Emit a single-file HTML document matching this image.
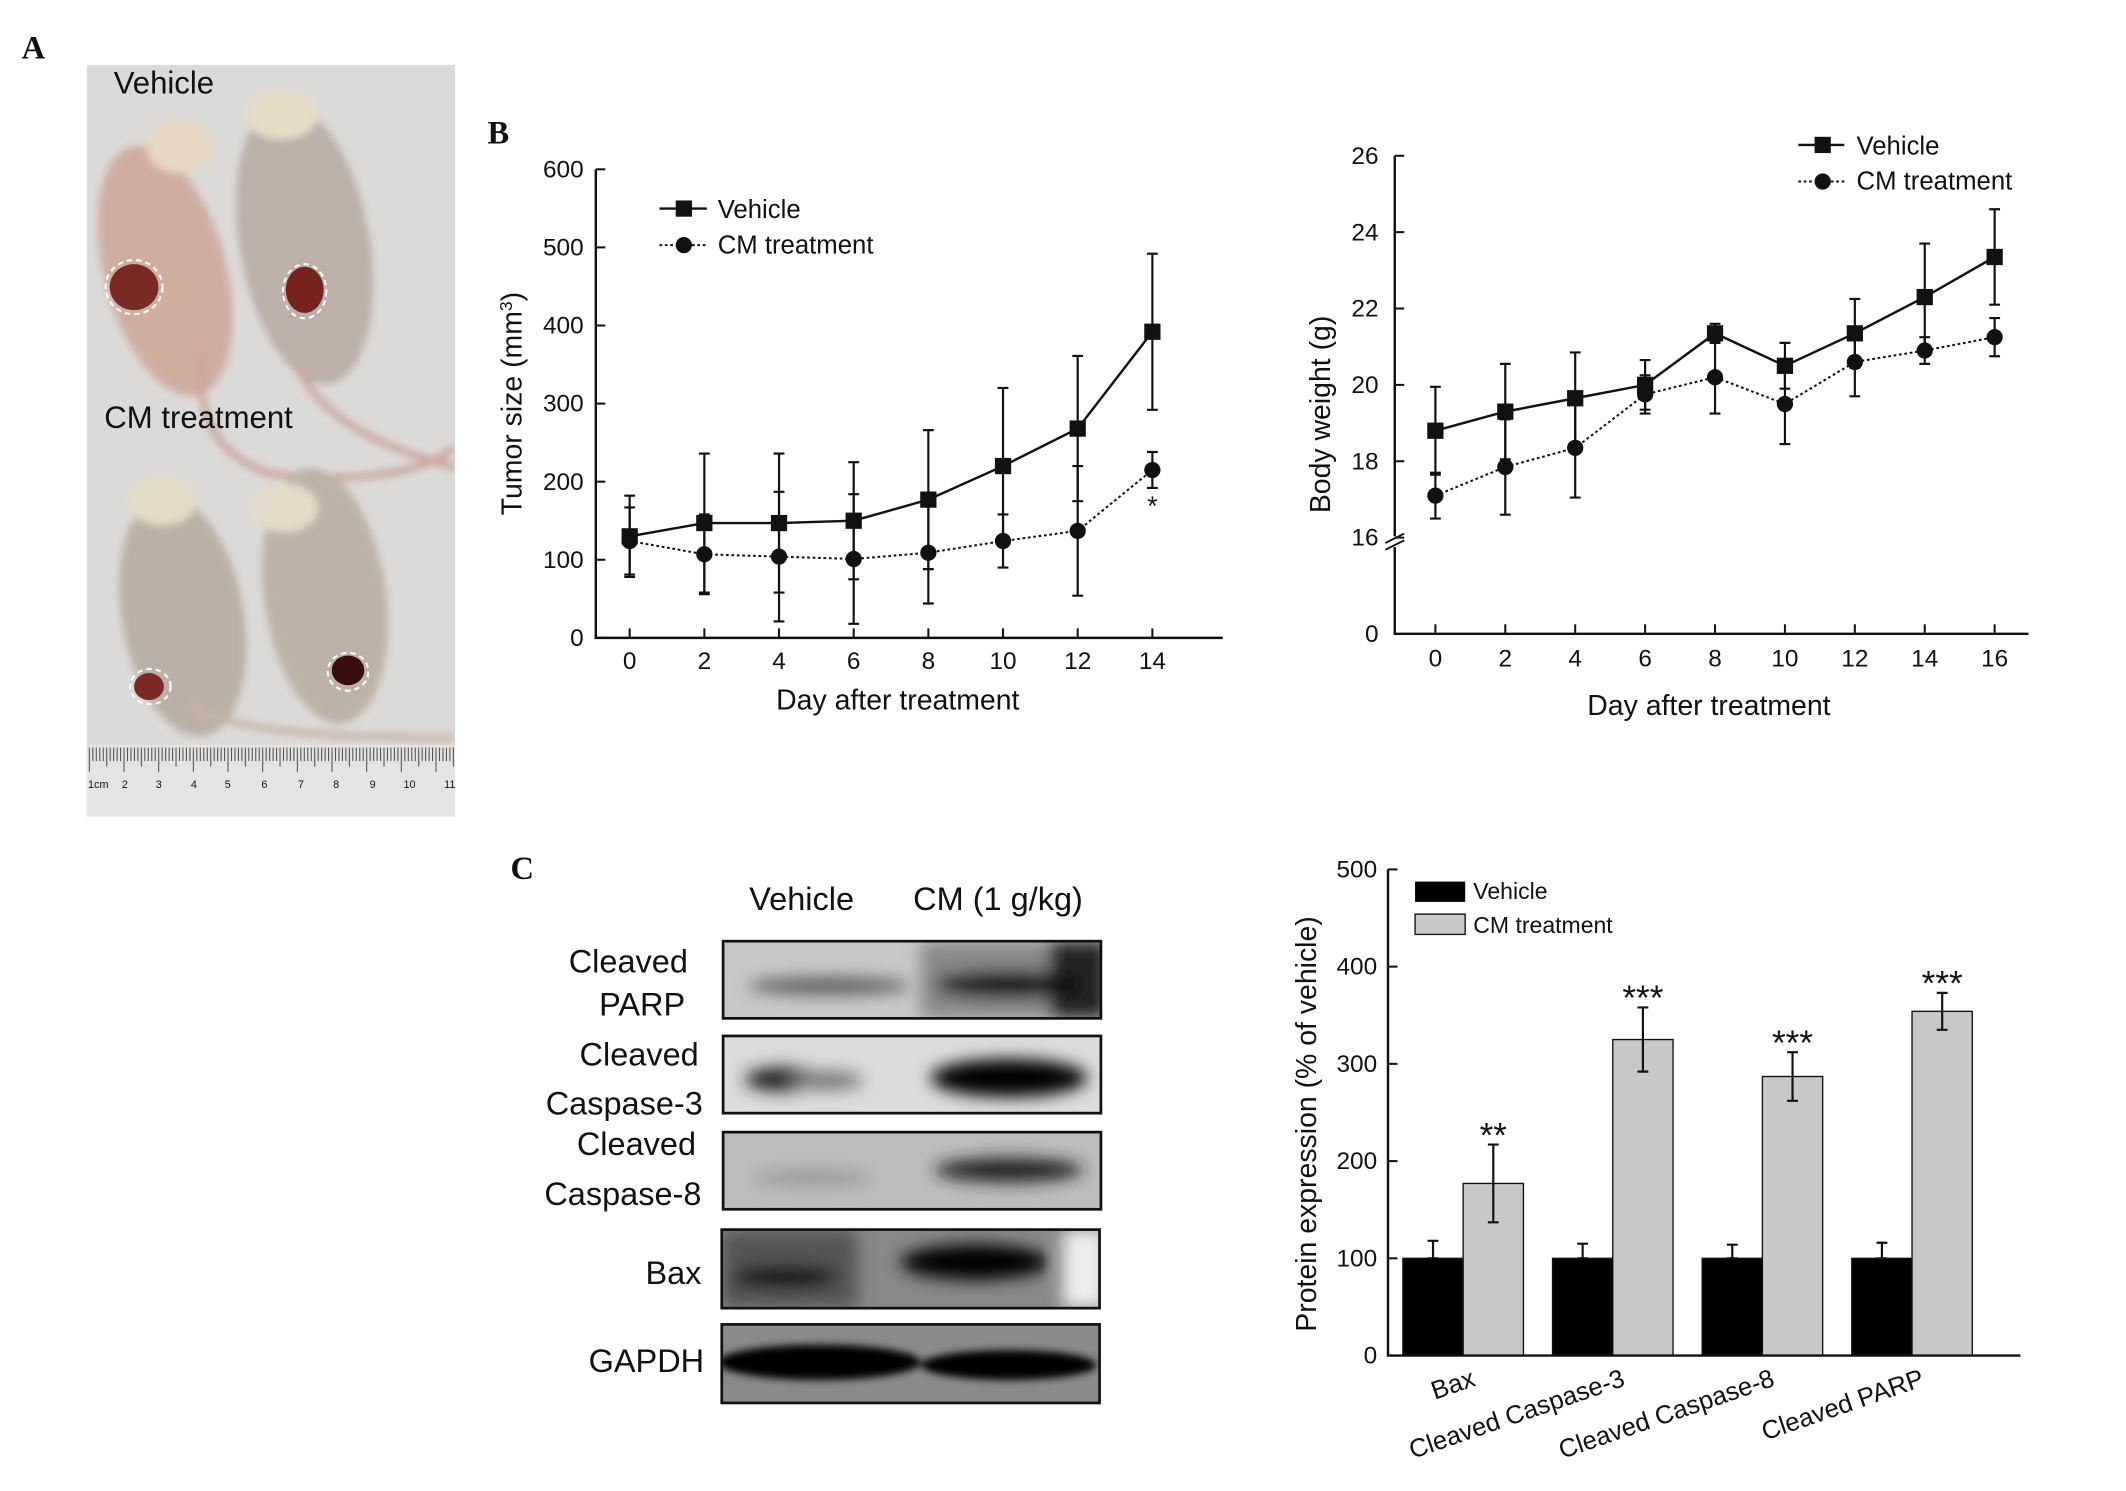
<!DOCTYPE html>
<html><head><meta charset="utf-8"><style>
html,body{margin:0;padding:0;background:#fff;}
svg{display:block;}
text{font-family:"Liberation Sans",Arial,sans-serif;fill:#111;}
.pl{font-family:"Liberation Serif",serif;font-weight:bold;font-size:24px;}
.tk{font-size:18px;}
.at{font-size:21px;}
.lg{font-size:19px;}
.wb{font-size:24px;}
</style></head><body>
<svg id="fig" width="2126" height="1491" viewBox="0 0 1570 1101" xmlns="http://www.w3.org/2000/svg">
<defs>
<filter id="blur" x="-30%" y="-80%" width="160%" height="260%"><feGaussianBlur stdDeviation="6"/></filter>
<filter id="blur2" x="-30%" y="-80%" width="160%" height="260%"><feGaussianBlur stdDeviation="3"/></filter>
<clipPath id="photoClip"><rect x="64" y="48" width="272" height="555"/></clipPath>
<clipPath id="c1"><rect x="534" y="695" width="279" height="57"/></clipPath>
<clipPath id="c2"><rect x="534" y="765" width="279" height="57"/></clipPath>
<clipPath id="c3"><rect x="534" y="836" width="279" height="57"/></clipPath>
<clipPath id="c4"><rect x="533" y="908" width="279" height="58"/></clipPath>
<clipPath id="c5"><rect x="533" y="978" width="279" height="58"/></clipPath>
</defs>

<text class="pl" x="16" y="43">A</text>
<g clip-path="url(#photoClip)">
  <rect x="64" y="48" width="272" height="555" fill="#dcdad8"/>
  <g filter="url(#blur2)">
    <ellipse cx="122" cy="200" rx="45" ry="95" fill="#cfaea2" transform="rotate(-15 122 200)"/>
    <ellipse cx="133" cy="108" rx="25" ry="20" fill="#e6d8c2"/>
    <ellipse cx="225" cy="180" rx="48" ry="105" fill="#bcb0a8" transform="rotate(-10 225 180)"/>
    <ellipse cx="208" cy="85" rx="27" ry="18" fill="#e7dcc5"/>
    <path d="M150 260 Q140 330 200 350 Q300 360 336 330" stroke="#c9a49a" stroke-width="5" fill="none"/>
    <path d="M220 270 Q240 320 336 345" stroke="#c9a49a" stroke-width="5" fill="none"/>
    <ellipse cx="135" cy="455" rx="45" ry="90" fill="#bbb0a5" transform="rotate(-10 135 455)"/>
    <ellipse cx="120" cy="370" rx="25" ry="18" fill="#e4dcc6"/>
    <ellipse cx="240" cy="440" rx="45" ry="95" fill="#bdb2a6" transform="rotate(-8 240 440)"/>
    <ellipse cx="210" cy="375" rx="25" ry="18" fill="#e4dcc6"/>
    <path d="M140 520 Q170 545 336 545" stroke="#c9b3a5" stroke-width="5" fill="none"/>
  </g>
  <ellipse cx="99" cy="212" rx="18" ry="17" fill="#7a2a25"/>
  <ellipse cx="225" cy="214" rx="14" ry="17" fill="#762320"/>
  <ellipse cx="110" cy="507" rx="11" ry="10" fill="#7b2a28"/>
  <ellipse cx="257" cy="495" rx="12" ry="11" fill="#3b0f10"/>
  <ellipse cx="99" cy="212" rx="21" ry="20" fill="none" stroke="#fff" stroke-width="1.5" stroke-dasharray="4 3"/>
  <ellipse cx="225" cy="215" rx="16" ry="20" fill="none" stroke="#fff" stroke-width="1.5" stroke-dasharray="4 3"/>
  <ellipse cx="111" cy="507" rx="15" ry="13" fill="none" stroke="#fff" stroke-width="1.5" stroke-dasharray="4 3"/>
  <ellipse cx="257" cy="496" rx="15" ry="14" fill="none" stroke="#fff" stroke-width="1.5" stroke-dasharray="4 3"/>
  <rect x="64" y="550" width="272" height="53" fill="#e6e4e2"/>
  <g id="rulerTicks" stroke="#555" stroke-width="0.8"></g>
  <g>
    <text x="65" y="582" style="font-size:8px">1cm</text><text x="90" y="582" style="font-size:8px">2</text><text x="115" y="582" style="font-size:8px">3</text><text x="141" y="582" style="font-size:8px">4</text><text x="166" y="582" style="font-size:8px">5</text><text x="193" y="582" style="font-size:8px">6</text><text x="220" y="582" style="font-size:8px">7</text><text x="246" y="582" style="font-size:8px">8</text><text x="273" y="582" style="font-size:8px">9</text><text x="298" y="582" style="font-size:8px">10</text><text x="328" y="582" style="font-size:8px">11</text>
  </g>
  <text x="84" y="69" style="font-size:23px">Vehicle</text>
  <text x="77" y="316" style="font-size:23px">CM  treatment</text>
</g>

<text class="pl" x="360" y="106">B</text>
<g id="tumorChart"></g>
<g id="weightChart"></g>

<text class="pl" x="377" y="649">C</text>
<g>
  <text class="wb" x="592" y="672" text-anchor="middle">Vehicle</text>
  <text class="wb" x="737" y="672" text-anchor="middle">CM (1 g/kg)</text>
  <g text-anchor="end">
    <text class="wb" x="508" y="718">Cleaved</text><text class="wb" x="506" y="750">PARP</text>
    <text class="wb" x="516" y="787">Cleaved</text><text class="wb" x="519" y="823">Caspase-3</text>
    <text class="wb" x="514" y="853">Cleaved</text><text class="wb" x="518" y="890">Caspase-8</text>
    <text class="wb" x="518" y="948">Bax</text>
    <text class="wb" x="520" y="1013">GAPDH</text>
  </g>
  <g>
    <rect x="534" y="695" width="279" height="57" fill="#c8c8c8"/>
    <g clip-path="url(#c1)"><g filter="url(#blur)"><rect x="680" y="695" width="133" height="57" fill="#888"/><rect x="775" y="695" width="43" height="57" fill="#222"/>
    <ellipse cx="612" cy="728" rx="60" ry="6" fill="#555"/><ellipse cx="745" cy="727" rx="55" ry="10" fill="#111"/></g></g>
    <rect x="534" y="695" width="279" height="57" fill="none" stroke="#111" stroke-width="2"/>
  </g>
  <g>
    <rect x="534" y="765" width="279" height="57" fill="#dcdcdc"/>
    <g clip-path="url(#c2)"><g filter="url(#blur)"><ellipse cx="578" cy="797" rx="28" ry="9" fill="#222"/><ellipse cx="610" cy="798" rx="28" ry="7" fill="#777"/><ellipse cx="745" cy="796" rx="58" ry="14" fill="#000"/></g></g>
    <rect x="534" y="765" width="279" height="57" fill="none" stroke="#111" stroke-width="2"/>
  </g>
  <g>
    <rect x="534" y="836" width="279" height="57" fill="#bdbdbd"/>
    <g clip-path="url(#c3)"><g filter="url(#blur)"><ellipse cx="600" cy="870" rx="45" ry="6" fill="#999"/><ellipse cx="745" cy="864" rx="55" ry="9" fill="#222"/></g></g>
    <rect x="534" y="836" width="279" height="57" fill="none" stroke="#111" stroke-width="2"/>
  </g>
  <g>
    <rect x="533" y="908" width="279" height="58" fill="#888"/>
    <g clip-path="url(#c4)"><g filter="url(#blur)"><rect x="533" y="908" width="100" height="58" fill="#555"/><rect x="785" y="908" width="32" height="58" fill="#eee"/>
    <ellipse cx="580" cy="943" rx="40" ry="8" fill="#111"/><ellipse cx="720" cy="932" rx="55" ry="13" fill="#000"/></g></g>
    <rect x="533" y="908" width="279" height="58" fill="none" stroke="#111" stroke-width="2"/>
  </g>
  <g>
    <rect x="533" y="978" width="279" height="58" fill="#8a8a8a"/>
    <g clip-path="url(#c5)"><g filter="url(#blur2)"><ellipse cx="605" cy="1006" rx="75" ry="13" fill="#000"/><ellipse cx="745" cy="1008" rx="65" ry="11" fill="#000"/></g></g>
    <rect x="533" y="978" width="279" height="58" fill="none" stroke="#111" stroke-width="2"/>
  </g>
</g>
<g id="barChart"></g>
</svg>

<script>
const NS = 'http://www.w3.org/2000/svg';
function mk(parent, tag, attrs, txt) {
  const e = document.createElementNS(NS, tag);
  for (const k in attrs) e.setAttribute(k, attrs[k]);
  if (txt !== undefined) e.textContent = txt;
  parent.appendChild(e);
  return e;
}
(function(){
  const g = document.getElementById('rulerTicks');
  for (let i = 0; i <= 108; i++) {
    const x = 66 + i * 2.56;
    const l = mk(g, 'line', {x1:x, x2:x, y1:552, y2: i%10===0?570:(i%5===0?566:562)});
    
    
  }
})();

const tumorDays = [0, 2, 4, 6, 8, 10, 12, 14];
const tumorVehicle = [130, 147, 147, 150, 177, 220, 268, 392];
const tumorVehicleErr = [52, 89, 89, 75, 89, 100, 93, 100];
const tumorCM = [124, 107, 104, 101, 109, 124, 137, 215];
const tumorCMErr = [43, 51, 83, 83, 65, 34, 83, 23];
const tumorYTicks = [0, 100, 200, 300, 400, 500, 600];
const tumorXTicks = [0, 2, 4, 6, 8, 10, 12, 14];

const weightDays = [0, 2, 4, 6, 8, 10, 12, 14, 16];
const weightVehicle = [18.8, 19.3, 19.65, 20.0, 21.35, 20.5, 21.35, 22.3, 23.35];
const weightVehicleErr = [1.15, 1.25, 1.2, 0.65, 0.25, 0.6, 0.9, 1.4, 1.25];
const weightCM = [17.1, 17.85, 18.35, 19.75, 20.2, 19.5, 20.6, 20.9, 21.25];
const weightCMErr = [0.6, 1.25, 1.3, 0.5, 0.95, 1.05, 0.9, 0.35, 0.5];
const weightYTicks = [16, 18, 20, 22, 24, 26];
const weightXTicks = [0, 2, 4, 6, 8, 10, 12, 14, 16];

const proteinCategories = ['Bax', 'Cleaved Caspase-3', 'Cleaved Caspase-8', 'Cleaved PARP'];
const proteinVehicle = [100, 100, 100, 100];
const proteinVehicleErr = [18, 15, 14, 16];
const proteinCM = [177, 325, 287, 354];
const proteinCMErr = [40, 33, 25, 19];
const proteinStars = ['**', '***', '***', '***'];
const proteinYTicks = [0, 100, 200, 300, 400, 500];

function errBar(g, x, y1, y2, name) {
  const e = mk(g, 'path', {d:`M${x} ${y1}V${y2}M${x-4} ${y1}H${x+4}M${x-4} ${y2}H${x+4}`, stroke:'#111', 'stroke-width':1.6, fill:'none'});
  
  
}
function square(g, x, y, name) {
  const s = mk(g, 'rect', {x:x-6, y:y-6, width:12, height:12, fill:'#111'});
  
  
}
function dot(g, x, y, name) {
  const c = mk(g, 'circle', {cx:x, cy:y, r:6, fill:'#111'});
  
  
}
function linePath(pts) {
  let d = `M${pts[0][0]} ${pts[0][1]}`;
  for (let i = 1; i < pts.length; i++) d += `L${pts[i][0]} ${pts[i][1]}`;
  return d;
}

(function(){
  const g = document.getElementById('tumorChart');
  const X = d => 465 + d * (851 - 465) / 14;
  const Y = v => 471 - v * (471 - 125) / 600;
  const ax = mk(g, 'path', {d:'M440 125V471H903', stroke:'#111', 'stroke-width':1.8, fill:'none'});
  
  
  tumorYTicks.forEach(t => {
    mk(g, 'line', {x1:440, x2:447, y1:Y(t), y2:Y(t), stroke:'#111', 'stroke-width':1.5});
    const tl = mk(g, 'text', {x:431, y:Y(t)+6, 'text-anchor':'end', class:'tk'}, t);
    
    
  });
  tumorXTicks.forEach(t => {
    mk(g, 'line', {x1:X(t), x2:X(t), y1:471, y2:464, stroke:'#111', 'stroke-width':1.5});
    const tl = mk(g, 'text', {x:X(t), y:494, 'text-anchor':'middle', class:'tk'}, t);
    
    
  });
  const yt = mk(g, 'text', {x:0, y:0, 'text-anchor':'middle', class:'at', transform:'translate(385 298) rotate(-90)'});
  yt.innerHTML = 'Tumor size (mm<tspan dy="-7" font-size="13">3</tspan><tspan dy="7">)</tspan>';
  
  
  const xt = mk(g, 'text', {x:663, y:524, 'text-anchor':'middle', class:'at'}, 'Day after treatment');
  
  
  tumorDays.forEach((d, i) => {
    errBar(g, X(d), Y(tumorVehicle[i] + tumorVehicleErr[i]), Y(tumorVehicle[i] - tumorVehicleErr[i]), 'tumor-vehicle-error-bar');
    errBar(g, X(d), Y(tumorCM[i] + tumorCMErr[i]), Y(tumorCM[i] - tumorCMErr[i]), 'tumor-cm-error-bar');
  });
  const lv = mk(g, 'path', {d:linePath(tumorDays.map((d,i)=>[X(d),Y(tumorVehicle[i])])), stroke:'#111', 'stroke-width':1.8, fill:'none'});
  
  
  const lc = mk(g, 'path', {d:linePath(tumorDays.map((d,i)=>[X(d),Y(tumorCM[i])])), stroke:'#111', 'stroke-width':1.5, 'stroke-dasharray':'2 2', fill:'none'});
  
  
  tumorDays.forEach((d, i) => {
    square(g, X(d), Y(tumorVehicle[i]), 'tumor-vehicle-point');
    dot(g, X(d), Y(tumorCM[i]), 'tumor-cm-point');
  });
  const last = tumorDays.length - 1;
  const st = mk(g, 'text', {x:X(tumorDays[last]), y:Y(tumorCM[last] - tumorCMErr[last]) + 20, 'text-anchor':'middle', style:'font-size:20px'}, '*');
  
  
  mk(g, 'line', {x1:487, x2:522, y1:154, y2:154, stroke:'#111', 'stroke-width':1.8});
  square(g, 505, 154, 'legend-vehicle-marker');
  const l1 = mk(g, 'text', {x:530, y:161, class:'lg'}, 'Vehicle');
  
  
  mk(g, 'line', {x1:487, x2:522, y1:181, y2:181, stroke:'#111', 'stroke-width':1.5, 'stroke-dasharray':'2 2'});
  dot(g, 505, 181, 'legend-cm-marker');
  const l2 = mk(g, 'text', {x:530, y:187, class:'lg'}, 'CM treatment');
  
  
})();

(function(){
  const g = document.getElementById('weightChart');
  const X = d => 1060 + d * (1473 - 1060) / 16;
  const Y = v => 397 - (v - 16) * (397 - 115) / 10;
  const ax = mk(g, 'path', {d:'M1030 115V468H1498', stroke:'#111', 'stroke-width':1.8, fill:'none'});
  
  
  mk(g, 'rect', {x:1024, y:396, width:12, height:8, fill:'#fff'});
  mk(g, 'path', {d:'M1023 401L1037 394M1023 406L1037 399', stroke:'#111', 'stroke-width':1.4});
  weightYTicks.forEach(t => {
    mk(g, 'line', {x1:1030, x2:1037, y1:Y(t), y2:Y(t), stroke:'#111', 'stroke-width':1.5});
    const tl = mk(g, 'text', {x:1018, y:Y(t)+6, 'text-anchor':'end', class:'tk'}, t);
    
    
  });
  const z = mk(g, 'text', {x:1018, y:474, 'text-anchor':'end', class:'tk'}, '0');
  
  
  weightXTicks.forEach(t => {
    mk(g, 'line', {x1:X(t), x2:X(t), y1:468, y2:461, stroke:'#111', 'stroke-width':1.5});
    const tl = mk(g, 'text', {x:X(t), y:492, 'text-anchor':'middle', class:'tk'}, t);
    
    
  });
  const yt = mk(g, 'text', {x:0, y:0, 'text-anchor':'middle', class:'at', transform:'translate(982 306) rotate(-90)'}, 'Body weight (g)');
  
  
  const xt = mk(g, 'text', {x:1262, y:528, 'text-anchor':'middle', class:'at'}, 'Day after treatment');
  
  
  weightDays.forEach((d, i) => {
    errBar(g, X(d), Y(weightVehicle[i] + weightVehicleErr[i]), Y(weightVehicle[i] - weightVehicleErr[i]), 'weight-vehicle-error-bar');
    errBar(g, X(d), Y(weightCM[i] + weightCMErr[i]), Y(weightCM[i] - weightCMErr[i]), 'weight-cm-error-bar');
  });
  const lv = mk(g, 'path', {d:linePath(weightDays.map((d,i)=>[X(d),Y(weightVehicle[i])])), stroke:'#111', 'stroke-width':1.8, fill:'none'});
  
  
  const lc = mk(g, 'path', {d:linePath(weightDays.map((d,i)=>[X(d),Y(weightCM[i])])), stroke:'#111', 'stroke-width':1.5, 'stroke-dasharray':'2 2', fill:'none'});
  
  
  weightDays.forEach((d, i) => {
    square(g, X(d), Y(weightVehicle[i]), 'weight-vehicle-point');
    dot(g, X(d), Y(weightCM[i]), 'weight-cm-point');
  });
  mk(g, 'line', {x1:1328, x2:1362, y1:107, y2:107, stroke:'#111', 'stroke-width':1.8});
  square(g, 1346, 107, 'legend-vehicle-marker');
  const l1 = mk(g, 'text', {x:1371, y:114, class:'lg'}, 'Vehicle');
  
  
  mk(g, 'line', {x1:1328, x2:1362, y1:134, y2:134, stroke:'#111', 'stroke-width':1.5, 'stroke-dasharray':'2 2'});
  dot(g, 1346, 134, 'legend-cm-marker');
  const l2 = mk(g, 'text', {x:1371, y:140, class:'lg'}, 'CM treatment');
  
  
})();

(function(){
  const g = document.getElementById('barChart');
  const Y = v => 1001 - v * (1001 - 642) / 500;
  const groupX = i => 1036 + i * 110.5;
  const bw = 44.5;
  proteinYTicks.forEach(t => {
    mk(g, 'line', {x1:1025, x2:1032, y1:Y(t), y2:Y(t), stroke:'#111', 'stroke-width':1.5});
    const tl = mk(g, 'text', {x:1017, y:Y(t)+6, 'text-anchor':'end', class:'tk'}, t);
    
    
  });
  proteinCategories.forEach((c, i) => {
    const x0 = groupX(i);
    errBar(g, x0 + bw/2, Y(proteinVehicle[i] + proteinVehicleErr[i]), Y(proteinVehicle[i]), 'protein-vehicle-error-bar');
    const b1 = mk(g, 'rect', {x:x0, y:Y(proteinVehicle[i]), width:bw, height:1001 - Y(proteinVehicle[i]), fill:'#000', stroke:'#111', 'stroke-width':1});
    
    
    const b2 = mk(g, 'rect', {x:x0 + bw, y:Y(proteinCM[i]), width:bw, height:1001 - Y(proteinCM[i]), fill:'#c8c8c6', stroke:'#111', 'stroke-width':1});
    
    
    errBar(g, x0 + bw*1.5, Y(proteinCM[i] + proteinCMErr[i]), Y(proteinCM[i] - proteinCMErr[i]), 'protein-cm-error-bar');
    const s = mk(g, 'text', {x:x0 + bw*1.5, y:Y(proteinCM[i] + proteinCMErr[i]) + 2, 'text-anchor':'middle', style:'font-size:26px'}, proteinStars[i]);
    
    
    const xl = mk(g, 'text', {x:0, y:0, 'text-anchor':'end', class:'tk', style:'font-size:19px', transform:`translate(${x0 + bw + 10} 1023) rotate(-19)`}, c);
    
    
  });
  const ax = mk(g, 'path', {d:'M1025 642V1001H1492', stroke:'#111', 'stroke-width':1.8, fill:'none'});
  
  
  const yt = mk(g, 'text', {x:0, y:0, 'text-anchor':'middle', class:'at', transform:'translate(972 830) rotate(-90)'}, 'Protein expression (% of vehicle)');
  
  
  const r1 = mk(g, 'rect', {x:1045, y:651, width:37, height:15, fill:'#000'});
  
  
  const t1 = mk(g, 'text', {x:1088, y:664, class:'lg', style:'font-size:17px'}, 'Vehicle');
  
  
  const r2 = mk(g, 'rect', {x:1045, y:675, width:37, height:15, fill:'#c8c8c6', stroke:'#111', 'stroke-width':1});
  
  
  const t2 = mk(g, 'text', {x:1088, y:689, class:'lg', style:'font-size:17px'}, 'CM treatment');
  
  
})();
</script>
</body></html>
